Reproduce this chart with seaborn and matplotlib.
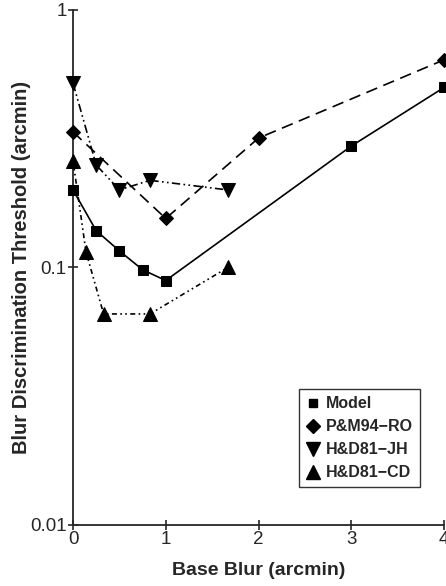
import numpy as np
import pandas as pd
import matplotlib
matplotlib.use("Agg")
import matplotlib.pyplot as plt
from matplotlib.lines import Line2D
import seaborn as sns

# --- Data ---
model_x = [0, 0.25, 0.5, 0.75, 1.0, 3.0, 4.0]
model_y = [0.20, 0.139, 0.116, 0.098, 0.089, 0.296, 0.50]

pm94_x = [0, 1.0, 2.0, 4.0]
pm94_y = [0.336, 0.155, 0.318, 0.64]

jh_x = [0, 0.25, 0.5, 0.83, 1.67]
jh_y = [0.52, 0.25, 0.20, 0.218, 0.20]

cd_x = [0, 0.14, 0.33, 0.83, 1.67]
cd_y = [0.26, 0.115, 0.066, 0.066, 0.10]

series_names = ["Model", "P&M94\u2212RO", "H&D81\u2212JH", "H&D81\u2212CD"]

sns.set_style("ticks")
plt.rcParams["font.family"] = ["Liberation Sans", "DejaVu Sans"]

fig = plt.figure(figsize=(4.46, 5.86), dpi=100)
ax = fig.add_axes([0.1637, 0.1041, 0.8318, 0.8789])

styles = [
    (model_x, model_y, "s", 6.5, (None, None)),
    (pm94_x, pm94_y, "D", 7.5, (7, 4)),
    (jh_x, jh_y, "v", 10, (5, 2, 1, 2, 1, 2)),
    (cd_x, cd_y, "^", 10, (3, 2, 1, 2, 1, 2)),
]

handles = []
for (xs, ys, mk, ms, dash), name in zip(styles, series_names):
    df = pd.DataFrame({"x": xs, "y": ys})
    sns.lineplot(data=df, x="x", y="y", ax=ax, color="black", lw=1.2,
                 marker=mk, markersize=ms, markeredgecolor="black",
                 legend=False, clip_on=False, zorder=3)
    line = ax.get_lines()[-1]
    if dash[0] is not None:
        line.set_dashes(dash)
    handles.append(Line2D([], [], ls="none", marker=mk, color="black",
                          markersize=ms * 0.95, label=name))

ax.set_yscale("log")
ax.set_ylim(0.01, 1)
ax.set_xlim(0, 4)
ax.set_yticks([0.01, 0.1, 1])
ax.set_yticklabels(["0.01", "0.1", "1"])
ax.yaxis.set_minor_locator(matplotlib.ticker.NullLocator())
ax.set_xticks([0, 1, 2, 3, 4])
ax.tick_params(axis="both", direction="inout", length=7, width=1.2,
               labelsize=13.5, pad=1)

sns.despine(ax=ax)
for s in ["left", "bottom"]:
    ax.spines[s].set_linewidth(1.3)

ax.set_xlabel("Base Blur (arcmin)", fontsize=14, fontweight="bold")
ax.set_ylabel("Blur Discrimination Threshold (arcmin)", fontsize=14.5,
              fontweight="bold")
ax.xaxis.set_label_coords(0.5, -0.072)
ax.yaxis.set_label_coords(-0.113, 0.5)

leg = ax.legend(handles=handles, loc="upper left",
                bbox_to_anchor=(0.609, 0.264), frameon=True, fancybox=False,
                prop={"weight": "bold", "size": 11.5}, handlelength=0.8,
                handletextpad=0.45, borderpad=0.45, labelspacing=0.5,
                borderaxespad=0)
leg.get_frame().set_edgecolor("black")
leg.get_frame().set_linewidth(1.0)

fig.savefig("out.png", dpi=100)
